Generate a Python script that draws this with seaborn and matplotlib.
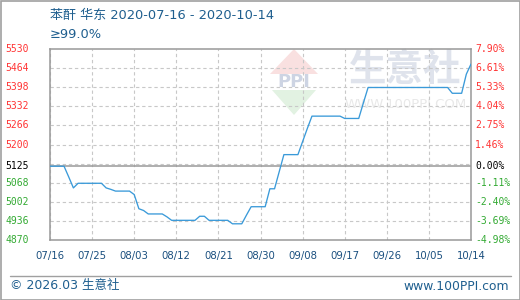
import numpy as np
import pandas as pd
import matplotlib
matplotlib.use("Agg")
import matplotlib.pyplot as plt
from matplotlib.patches import Polygon, Rectangle
from matplotlib.transforms import blended_transform_factory
from matplotlib.lines import Line2D
import seaborn as sns

# ---------------- data ----------------
title = "苯酐 华东 2020-07-16 - 2020-10-14"
subtitle = "≥99.0%"
start_date = "2020-07-16"
prices = [
    5125, 5125, 5125, 5125, 5088, 5050, 5066, 5066, 5066, 5066,
    5066, 5066, 5050, 5045, 5039, 5039, 5039, 5039, 5027, 4978,
    4972, 4960, 4960, 4960, 4960, 4950, 4938, 4938, 4938, 4938,
    4938, 4938, 4952, 4952, 4938, 4938, 4938, 4938, 4938, 4926,
    4926, 4926, 4956, 4985, 4985, 4985, 4985, 5047, 5047, 5106,
    5165, 5165, 5165, 5165, 5210, 5255, 5298, 5298, 5298, 5298,
    5298, 5298, 5298, 5290, 5290, 5290, 5290, 5344, 5397, 5397,
    5397, 5397, 5397, 5397, 5397, 5397, 5397, 5397, 5397, 5397,
    5397, 5397, 5397, 5397, 5397, 5397, 5377, 5377, 5377, 5443,
    5478,
]
x_tick_labels = ["07/16", "07/25", "08/03", "08/12", "08/21", "08/30",
                 "09/08", "09/17", "09/26", "10/05", "10/14"]
left_values = [5530, 5464, 5398, 5332, 5266, 5200, 5125, 5068, 5002, 4936, 4870]
left_labels = ["5530", "5464", "5398", "5332", "5266", "5200", "5125",
               "5068", "5002", "4936", "4870"]
right_labels = ["7.90%", "6.61%", "5.33%", "4.04%", "2.75%", "1.46%", "0.00%",
                "-1.11%", "-2.40%", "-3.69%", "-4.98%"]
grid_values = [5464, 5398, 5332, 5266, 5200, 5134, 5068, 5002, 4936]
base_price = 5125
footer_left = "© 2026.03 生意社"
footer_right = "www.100PPI.com"

dates = pd.date_range(start_date, periods=len(prices), freq="D")
df = pd.DataFrame({"date": dates, "price": prices})

# ---------------- style ----------------
sns.set_theme(style="white")
plt.rcParams["font.family"] = ["DejaVu Sans", "Noto Sans CJK SC"]

W, H = 520, 300
fig = plt.figure(figsize=(W / 100, H / 100), dpi=100)

bg = fig.add_axes([0, 0, 1, 1], zorder=0)
bg.set_xlim(0, W)
bg.set_ylim(H, 0)
bg.axis("off")

# watermark
bg.add_patch(Polygon([[270, 74], [318, 74], [294, 49]], closed=True,
                     facecolor="#f9e0e0", edgecolor="none"))
bg.add_patch(Polygon([[272, 90], [316, 90], [294, 115]], closed=True,
                     facecolor="#e2f2e2", edgecolor="none"))
bg.text(294, 82, "PPI", ha="center", va="center", fontsize=13,
        fontweight="bold", color="#cdd4e3", family=["DejaVu Sans"])
bg.text(405, 70, "生意社", ha="center", va="center", fontsize=27,
        fontweight="bold", color="#dfe3ec", family=["Noto Sans CJK SC"])
bg.text(406, 104, "WWW.100PPI.COM", ha="center", va="center", fontsize=9.5,
        color="#e8e8e8")

# border, title, footer
bg.add_patch(Rectangle((0.5, 0.5), W - 1, H - 1, facecolor="none",
                       edgecolor="#a0a0a0", lw=1.2))
txt_col = "#1f5f8f"
bg.text(50, 15, title, ha="left", va="center", fontsize=9.4, color=txt_col)
bg.text(50, 34, subtitle, ha="left", va="center", fontsize=9.4, color=txt_col)
bg.add_line(Line2D([10, 511], [275.5, 275.5], color="#a0a0a0", lw=1))
bg.text(10, 286, footer_left, ha="left", va="center", fontsize=9, color=txt_col)
bg.text(509, 286, footer_right, ha="right", va="center", fontsize=8.9, color=txt_col)

# ---------------- main chart ----------------
ax = fig.add_axes([50 / W, 60 / H, 421 / W, 191 / H], zorder=1)
ax.patch.set_alpha(0)

sns.lineplot(data=df, x="date", y="price", ax=ax, color="#3a9ad9",
             linewidth=0.95, zorder=3)
ax.set_xlim(dates[0], dates[-1])
ax.set_ylim(min(left_values), max(left_values))

xticks = pd.date_range(start_date, periods=len(x_tick_labels), freq="9D")
ax.set_xticks(xticks)
ax.set_xticklabels(x_tick_labels, fontsize=7.3, color="#1a4f7f")
ax.set_yticks(grid_values)
ax.set_yticklabels([])
ax.tick_params(length=0)
ax.tick_params(axis="x", pad=8)
ax.set_xlabel("")
ax.set_ylabel("")
ax.grid(True, linestyle=(0, (3, 2.5)), color="#c8c8c8", linewidth=0.8)
ax.axhline(base_price, color="#999999", linewidth=1.1, zorder=2)
for s in ax.spines.values():
    s.set_color("#999999")
    s.set_linewidth(1.1)

trans = blended_transform_factory(fig.transFigure, ax.transData)
for v, ll, rl in zip(left_values, left_labels, right_labels):
    if v > base_price:
        c = "#ff3333"
    elif v < base_price:
        c = "#33aa33"
    else:
        c = "#000000"
    ax.text(5 / W, v, ll, transform=trans, ha="left", va="center",
            fontsize=7, color=c, family=["DejaVu Sans Mono"], clip_on=False)
    ax.text(475 / W, v, rl, transform=trans, ha="left", va="center",
            fontsize=7, color=c, family=["DejaVu Sans Mono"], clip_on=False)

fig.savefig("out.png", dpi=100)
